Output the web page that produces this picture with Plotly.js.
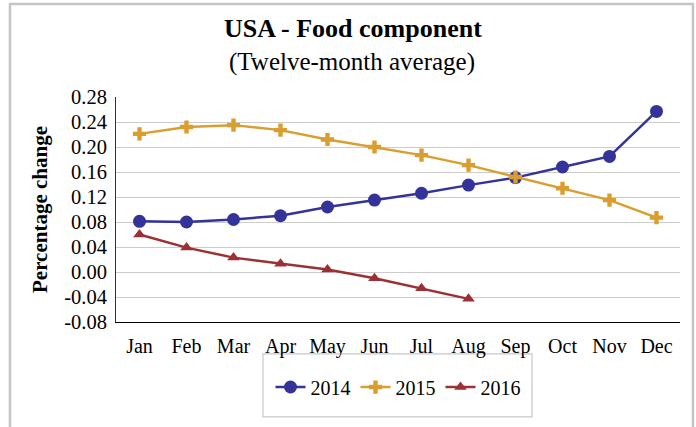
<!DOCTYPE html>
<html>
<head>
<meta charset="utf-8">
<script src="https://cdn.plot.ly/plotly-3.0.1.min.js"></script>
<style>
  html, body { margin: 0; padding: 0; background: #ffffff; }
  #chart { width: 696px; height: 427px; }
</style>
</head>
<body>
<div id="chart"></div>
<script>
const months = ["Jan", "Feb", "Mar", "Apr", "May", "Jun", "Jul", "Aug", "Sep", "Oct", "Nov", "Dec"];
const values2014 = [0.081, 0.080, 0.084, 0.090, 0.104, 0.115, 0.126, 0.139, 0.151, 0.168, 0.185, 0.257];
const values2015 = [0.221, 0.232, 0.235, 0.227, 0.212, 0.200, 0.187, 0.171, 0.152, 0.134, 0.115, 0.087];
const values2016 = [0.060, 0.039, 0.023, 0.013, 0.004, -0.010, -0.026, -0.043];
const yTickVals = [-0.08, -0.04, 0.00, 0.04, 0.08, 0.12, 0.16, 0.20, 0.24, 0.28];
const yTickText = ["-0.08", "-0.04", "0.00", "0.04", "0.08", "0.12", "0.16", "0.20", "0.24", "0.28"];

const FONT = "Liberation Serif";

const traces = [
  {
    x: months, y: values2014, name: "2014", type: "scatter", mode: "lines+markers",
    line: { color: "#333399", width: 2.5 },
    marker: { symbol: "circle", size: 13, color: "#333399" }
  },
  {
    x: months, y: values2015, name: "2015", type: "scatter", mode: "lines+markers",
    line: { color: "#D99E2E", width: 2.5 },
    marker: { symbol: "cross", size: 11, color: "#D99E2E" }
  },
  {
    x: months.slice(0, values2016.length), y: values2016, name: "2016", type: "scatter", mode: "lines+markers",
    line: { color: "#9C3034", width: 2.5 },
    marker: { symbol: "triangle-up", size: 11, color: "#9C3034" }
  }
];

const layout = {
  width: 696, height: 427,
  margin: { l: 116, r: 16, t: 97, b: 105 },
  paper_bgcolor: "#ffffff", plot_bgcolor: "#ffffff",
  font: { family: FONT, size: 20, color: "#000000" },
  title: {
    text: "<b>USA - Food component</b>",
    font: { family: FONT, size: 26, color: "#000000" },
    x: 0.507, xref: "container", xanchor: "center",
    y: 0.935, yref: "container", yanchor: "middle"
  },
  annotations: [
    {
      text: "(Twelve-month average)", showarrow: false,
      xref: "paper", yref: "paper", x: 0.418, y: 1.155,
      xanchor: "center", yanchor: "middle",
      font: { family: FONT, size: 25, color: "#000000" }
    }
  ],
  xaxis: {
    type: "category", range: [-0.5, 11.5],
    showgrid: false, showline: true, linecolor: "#000000", linewidth: 1,
    ticks: "", tickfont: { family: FONT, size: 20, color: "#000000" },
    ticklabelstandoff: 6,
    zeroline: false, fixedrange: true
  },
  yaxis: {
    range: [-0.08, 0.28],
    tickmode: "array", tickvals: yTickVals, ticktext: yTickText,
    showgrid: true, gridcolor: "#cccccc", gridwidth: 1,
    showline: true, linecolor: "#333333", linewidth: 1,
    zeroline: false, ticks: "",
    tickfont: { family: FONT, size: 20.5, color: "#000000" },
    ticklabelstandoff: 4,
    title: { text: "<b>Percentage change</b>", font: { family: FONT, size: 21, color: "#000000" }, standoff: 10 },
    fixedrange: true
  },
  showlegend: true,
  legend: {
    orientation: "h", x: 0.5, xanchor: "center", y: -0.289, yanchor: "middle",
    xref: "paper", yref: "paper",
    font: { family: FONT, size: 20, color: "#000000" },
    bgcolor: "rgba(0,0,0,0)", borderwidth: 0
  },
  shapes: [
    {
      type: "rect", xref: "paper", yref: "paper",
      x0: 0.2606, x1: 0.7376, y0: -0.142, y1: -0.422,
      line: { color: "#c8c8c8", width: 1.2 }, fillcolor: "rgba(0,0,0,0)", layer: "below"
    },
    {
      type: "rect", xref: "paper", yref: "paper",
      x0: -0.188, x1: 1.023, y0: -0.6, y1: 1.413,
      line: { color: "#c4c4c4", width: 2.5 }, fillcolor: "rgba(0,0,0,0)", layer: "below"
    }
  ]
};

Plotly.newPlot("chart", traces, layout, { displayModeBar: false, staticPlot: true });
</script>
</body>
</html>
